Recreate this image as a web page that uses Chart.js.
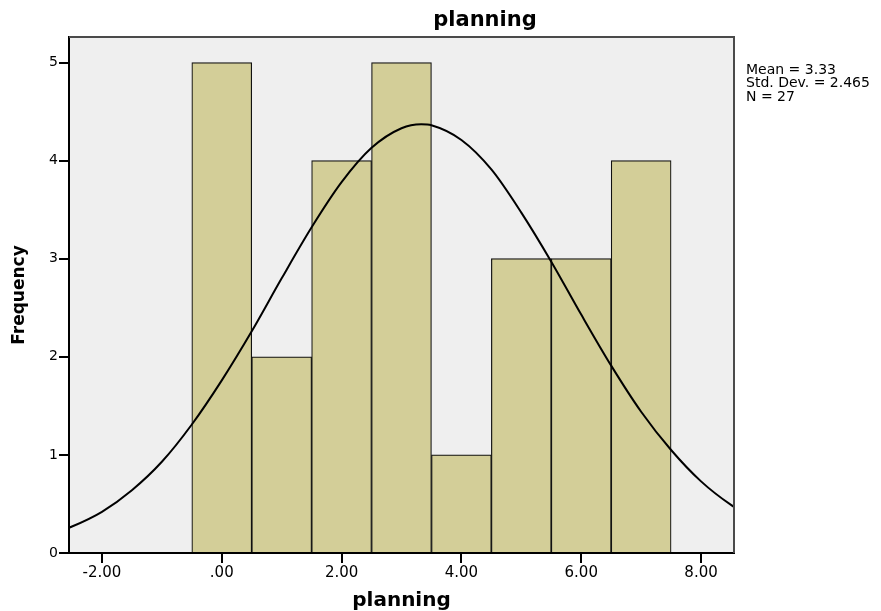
<!DOCTYPE html>
<html>
<head>
<meta charset="utf-8">
<script src="https://cdn.jsdelivr.net/npm/chart.js@4"></script>
<style>
html,body{margin:0;padding:0;background:#fff;}
#wrap{width:881px;height:611px;}
</style>
</head>
<body>
<div id="wrap"><canvas id="c" width="881" height="611"></canvas></div>
<script>
// ---- data ----
const binCenters = [0, 1, 2, 3, 4, 5, 6, 7];
const frequencies = [5, 2, 4, 5, 1, 3, 3, 4];
const curveX = [-3, -2.5, -2, -1.5, -1, -0.5, 0, 0.5, 1, 1.5, 2, 2.5, 3, 3.33, 3.5, 4, 4.5, 5, 5.5, 6, 6.5, 7, 7.5, 8, 8.5, 9];
const curveY = [0.16, 0.27, 0.42, 0.64, 0.93, 1.31, 1.76, 2.26, 2.80, 3.32, 3.78, 4.13, 4.33, 4.37, 4.36, 4.21, 3.91, 3.47, 2.97, 2.43, 1.91, 1.44, 1.05, 0.73, 0.49, 0.31];
const xTickValues = [-2, 0, 2, 4, 6, 8];
const yTickValues = [0, 1, 2, 3, 4, 5];
const chartTitle = 'planning';
const xTitle = 'planning';
const yTitle = 'Frequency';
const statsLines = ['Mean = 3.33', 'Std. Dev. = 2.465', 'N = 27'];

const FONT = "'DejaVu Sans', 'Liberation Sans', Arial, sans-serif";

const decor = {
  id: 'decor',
  beforeDraw(chart) {
    const {ctx, chartArea: a} = chart;
    ctx.save();
    ctx.fillStyle = '#efefef';
    ctx.fillRect(a.left, a.top, a.right - a.left, a.bottom - a.top);
    ctx.restore();
  },
  afterDraw(chart) {
    const {ctx, chartArea: a} = chart;
    ctx.save();
    ctx.strokeStyle = '#4a4a4a';
    ctx.lineWidth = 2;
    ctx.beginPath();
    ctx.moveTo(a.left, a.top);
    ctx.lineTo(a.right, a.top);
    ctx.lineTo(a.right, a.bottom);
    ctx.stroke();
    // chart title
    ctx.fillStyle = '#000';
    ctx.font = "bold 21px " + FONT;
    ctx.textAlign = 'center';
    ctx.textBaseline = 'middle';
    ctx.fillText(chartTitle, 485, 21);
    // stats
    ctx.font = "14px " + FONT;
    ctx.textAlign = 'left';
    statsLines.forEach((s, i) => ctx.fillText(s, 746, 70 + i * 13.5));
    ctx.restore();
  }
};

const barData = binCenters.map((x, i) => ({x: x, y: frequencies[i]}));
const curveData = curveX.map((x, i) => ({x: x, y: curveY[i]}));

new Chart(document.getElementById('c'), {
  type: 'bar',
  data: {
    datasets: [
      {
        type: 'line',
        data: curveData,
        borderColor: '#000',
        borderWidth: 2,
        pointRadius: 0,
        fill: false,
        cubicInterpolationMode: 'monotone',
        order: 0
      },
      {
        type: 'bar',
        data: barData,
        backgroundColor: '#d3ce98',
        borderColor: '#111',
        borderWidth: 1.2,
        barPercentage: 1,
        categoryPercentage: 1,
        grouped: false,
        order: 1
      }
    ]
  },
  options: {
    responsive: false,
    animation: false,
    devicePixelRatio: 1,
    layout: {padding: {left: 0, right: 147, top: 37, bottom: 0}},
    plugins: {
      legend: {display: false},
      tooltip: {enabled: false},
      title: {display: false}
    },
    scales: {
      x: {
        type: 'linear',
        min: -2.55,
        max: 8.55,
        offset: false,
        z: 1,
        afterFit(s) { s.height = 58; },
        afterBuildTicks(s) { s.ticks = xTickValues.map(v => ({value: v})); },
        ticks: {
          includeBounds: false,
          autoSkip: false,
          maxRotation: 0,
          padding: 1,
          color: '#000',
          font: {family: FONT, size: 15},
          callback: v => v === 0 ? '.00' : Number(v).toFixed(2)
        },
        grid: {display: true, drawOnChartArea: false, drawTicks: true, tickLength: 10, color: '#000', lineWidth: 2, offset: false},
        border: {display: true, color: '#000', width: 2},
        title: {display: true, text: xTitle, color: '#000', font: {family: FONT, size: 20, weight: 'bold', lineHeight: 1}, padding: {top: 0, bottom: 0}}
      },
      y: {
        type: 'linear',
        min: 0,
        max: 5.26,
        z: 1,
        afterFit(s) { s.width = 69; },
        afterBuildTicks(s) { s.ticks = yTickValues.map(v => ({value: v})); },
        ticks: {
          includeBounds: false,
          padding: 1,
          color: '#000',
          font: {family: FONT, size: 14}
        },
        grid: {display: true, drawOnChartArea: false, drawTicks: true, tickLength: 10, color: '#000', lineWidth: 2},
        border: {display: true, color: '#000', width: 2},
        title: {display: true, text: yTitle, color: '#000', font: {family: FONT, size: 17, weight: 'bold', lineHeight: 1.2}, padding: {top: 9, bottom: 0}}
      }
    }
  },
  plugins: [decor]
});
</script>
</body>
</html>
